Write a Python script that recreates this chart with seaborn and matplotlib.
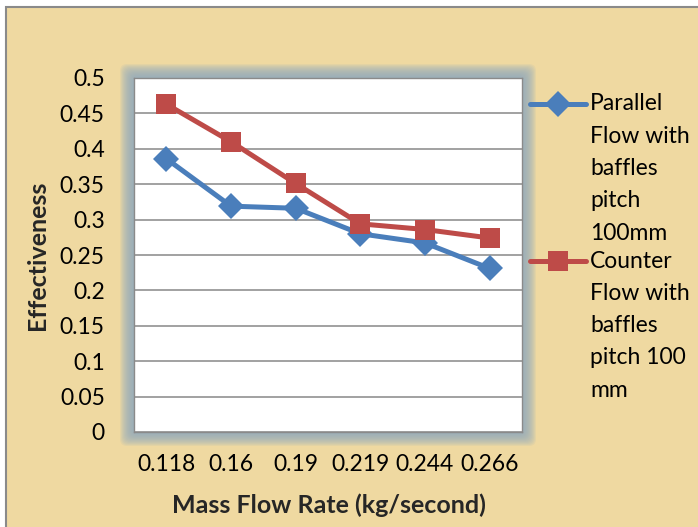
import matplotlib
matplotlib.use("Agg")
import matplotlib.pyplot as plt
from matplotlib.patches import Rectangle, FancyBboxPatch
from matplotlib.lines import Line2D
import numpy as np
import pandas as pd
import seaborn as sns

# Mass flow rates (kg/s) shown as category labels
mass_flow = ["0.118", "0.16", "0.19", "0.219", "0.244", "0.266"]

# Effectiveness for each arrangement
parallel_eff = [0.386, 0.319, 0.316, 0.280, 0.267, 0.231]
counter_eff = [0.463, 0.410, 0.351, 0.294, 0.286, 0.274]

parallel_label = ["Parallel", "Flow with", "baffles", "pitch", "100mm"]
counter_label = ["Counter", "Flow with", "baffles", "pitch 100", "mm"]

y_ticks = [0, 0.05, 0.1, 0.15, 0.2, 0.25, 0.3, 0.35, 0.4, 0.45, 0.5]

BLUE = "#4A7EBB"
RED = "#BE4B48"
FONT = "Lato"
FS = 16.5
FS_LABEL = 18

sns.set_theme(style="white")
plt.rcParams["font.family"] = [FONT, "DejaVu Sans"]

W, H, DPI = 698, 527, 100
fig = plt.figure(figsize=(W / DPI, H / DPI), dpi=DPI, facecolor="white")


def px_box(x0, y0, x1, y1):
    """Convert a pixel box (top-left origin) to inches for dpi_scale_trans."""
    return x0 / DPI, (H - y1) / DPI, (x1 - x0) / DPI, (y1 - y0) / DPI


# chart background with its frame
bx, by, bw, bh = px_box(6, 7, W + 10, H + 10)
fig.patches.append(Rectangle((bx, by), bw, bh, transform=fig.dpi_scale_trans,
                             facecolor="#EFD9A1", edgecolor="#8A8A8A",
                             linewidth=1.5, zorder=-10))

# soft glow around the plot area
px0, py0, px1, py1 = 134, 78, 522, 432
for i in range(14, 0, -1):
    gx, gy, gw, gh = px_box(px0 - i, py0 - i, px1 + i, py1 + i)
    fig.patches.append(FancyBboxPatch((gx, gy), gw, gh,
                                      boxstyle="round,pad=0,rounding_size=0.07",
                                      transform=fig.dpi_scale_trans,
                                      facecolor="#90AAC0", edgecolor="none",
                                      alpha=0.12, zorder=-5))

ax = fig.add_axes([px0 / W, 1 - py1 / H, (px1 - px0) / W, (py1 - py0) / H])
ax.set_facecolor("white")

x = np.arange(len(mass_flow))
df = pd.DataFrame({
    "pos": np.concatenate([x, x]),
    "eff": parallel_eff + counter_eff,
    "series": ["Parallel"] * len(x) + ["Counter"] * len(x),
})

sns.lineplot(data=df[df.series == "Parallel"], x="pos", y="eff", ax=ax,
             color=BLUE, linewidth=3.6, marker="D", markersize=13,
             markeredgewidth=0, legend=False, zorder=3)
sns.lineplot(data=df[df.series == "Counter"], x="pos", y="eff", ax=ax,
             color=RED, linewidth=3.6, marker="s", markersize=15,
             markeredgewidth=0, legend=False, zorder=4)

ax.set_xlim(-0.5, len(x) - 0.5)
ax.set_ylim(0, 0.5)
ax.set_yticks(y_ticks)
ax.set_yticklabels([f"{t:g}" for t in y_ticks])
ax.set_xticks(x)
ax.set_xticklabels(mass_flow)
ax.yaxis.grid(True, color="#888888", linewidth=1.1)
ax.set_axisbelow(True)
for s in ax.spines.values():
    s.set_color("#8A8A8A")
    s.set_linewidth(1.0)
ax.tick_params(axis="both", length=0, labelsize=FS, colors="black")
ax.tick_params(axis="y", pad=21)
ax.tick_params(axis="x", pad=16)

ax.set_xlabel("Mass Flow Rate (kg/second)", fontsize=FS_LABEL,
              fontweight="bold", va="center")
ax.set_ylabel("Effectiveness", fontsize=FS_LABEL, fontweight="bold",
              va="center")
ax.xaxis.set_label_coords((329 - px0) / (px1 - px0), (py1 - 505) / (py1 - py0))
ax.yaxis.set_label_coords((38 - px0) / (px1 - px0), (py1 - 255) / (py1 - py0))

# legend: handle aligned with the first line of each wrapped label
def legend_entry(color, marker, msize, y_first, lines):
    yh = 1 - y_first / H
    fig.add_artist(Line2D([530 / W, 586 / W], [yh, yh], color=color,
                          linewidth=3.6, transform=fig.transFigure))
    fig.add_artist(Line2D([558 / W], [yh], color=color, marker=marker,
                          markersize=msize, markeredgewidth=0,
                          transform=fig.transFigure))
    for i, txt in enumerate(lines):
        fig.text(590 / W, 1 - (y_first + i * 32.3) / H, txt, fontsize=FS,
                 va="center", ha="left", color="black")


legend_entry(BLUE, "D", 13, 104, parallel_label)
legend_entry(RED, "s", 15, 261, counter_label)

fig.savefig("out.png", dpi=DPI, facecolor=fig.get_facecolor())
